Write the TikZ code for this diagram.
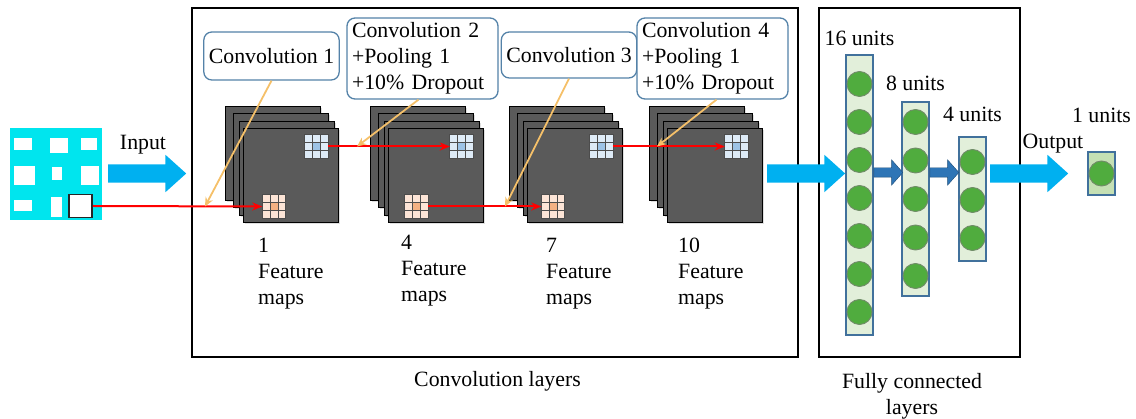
\documentclass[tikz,border=0pt]{standalone}
\usepackage{fontspec}
\setmainfont{Liberation Serif}
\usetikzlibrary{positioning,calc,shapes.arrows,shadows,arrows.meta}

\definecolor{incyan}{RGB}{0,229,238}
\definecolor{bigblue}{RGB}{0,176,240}
\definecolor{smallblue}{RGB}{46,117,182}
\definecolor{smallline}{RGB}{31,78,121}
\definecolor{sheetgray}{RGB}{90,90,90}
\definecolor{boxline}{RGB}{84,130,168}
\definecolor{barfill}{RGB}{226,239,218}
\definecolor{barline}{RGB}{65,113,156}
\definecolor{unitgreen}{RGB}{80,172,62}
\definecolor{unitline}{RGB}{112,140,104}
\definecolor{outfill}{RGB}{197,224,180}
\definecolor{callcol}{RGB}{245,192,105}
\definecolor{cellblue}{RGB}{222,235,247}
\definecolor{cellbluec}{RGB}{157,195,230}
\definecolor{cellpink}{RGB}{252,228,214}
\definecolor{cellpinkc}{RGB}{244,177,131}

% 3x3 小网格
\newcommand{\cellgrid}[2]{%
  \fill[#2] ($(#1.north west)!1/3!(#1.south east)$) rectangle ($(#1.north west)!2/3!(#1.south east)$);
  \foreach \k in {1,2} {
    \draw[gridline] ($(#1.north west)!\k/3!(#1.north east)$) -- ($(#1.south west)!\k/3!(#1.south east)$);
    \draw[gridline] ($(#1.north west)!\k/3!(#1.south west)$) -- ($(#1.north east)!\k/3!(#1.south east)$);
  }
  \draw[gridline] (#1.north west) rectangle (#1.south east);
}

\begin{document}
\begin{tikzpicture}[x=1pt, y=-1pt, every node/.style={font=\fontsize{21.8}{26}\selectfont}, >=Stealth]
    % 样式
    \tikzstyle{framebox} = [rectangle, draw=black, line width=1.8pt, inner sep=0pt]
    \tikzstyle{sheet} = [rectangle, draw=black, fill=sheetgray, line width=1.2pt, minimum width=95pt, minimum height=94pt, inner sep=0pt, drop shadow={opacity=0.25, shadow xshift=1.5pt, shadow yshift=-1.5pt}]
    \tikzstyle{cellbox} = [rectangle, minimum size=23pt, inner sep=0pt]
    \tikzstyle{gridline} = [draw=black!70, line width=0.7pt]
    \tikzstyle{convlabel} = [rectangle, rounded corners=8pt, draw=boxline, line width=1.3pt, fill=white, inner xsep=5pt]
    \tikzstyle{fmlabel} = [align=left, inner sep=0pt]
    \tikzstyle{bigarrow} = [single arrow, fill=bigblue, inner xsep=0pt, inner ysep=9pt, minimum width=37pt, minimum height=78pt, single arrow head extend=9.5pt, single arrow tip angle=84]
    \tikzstyle{smallarrow} = [single arrow, fill=smallblue, draw=smallline, line width=0.4pt, inner xsep=0pt, inner ysep=4.5pt, minimum width=25pt, minimum height=29pt, single arrow head extend=8pt, single arrow tip angle=97]
    \tikzstyle{barbox} = [rectangle, draw=barline, fill=barfill, line width=1.2pt, minimum width=27pt, inner sep=0pt]
    \tikzstyle{unitdot} = [circle, fill=unitgreen, draw=unitline, line width=0.9pt, minimum size=25pt, inner sep=0pt]
    \tikzstyle{unitlbl} = [inner sep=0pt]
    \tikzstyle{redline} = [red, line width=2pt, -{Stealth[length=10pt, width=8pt]}]
    \tikzstyle{callline} = [callcol, line width=1.8pt, -{Stealth[length=9pt, width=8pt]}]

    \useasboundingbox (0,0) rectangle (1136,419);

    % 外框
    \node[framebox, minimum width=606pt, minimum height=349pt] (convframe) at (495,182.5) {};
    \node[framebox, minimum width=201pt, minimum height=349pt] (fcframe) at (919.5,182.5) {};
    \node[anchor=base, inner sep=0pt] (convcap) at (497.5,387) {Convolution layers};
    \node[anchor=north, align=center, inner sep=0pt] (fccap) at (912,373) {Fully connected\\layers};

    % 输入图像
    \node[rectangle, fill=incyan, minimum size=92pt, inner sep=0pt] (img) at (56,174) {};
    \foreach \ax/\ay/\bx/\by in {14/138/32/150, 50/138/68/153, 81/138/97/150,
                                 14/166/35/185, 52/167/62/180, 81/166/99/185,
                                 14/200/32/211, 51/197/62/217}
      \fill[white] (\ax,\ay) rectangle (\bx,\by);
    \node[rectangle, draw=black!85, fill=white, line width=1.6pt, minimum size=23pt, inner sep=0pt] (inbox) at (80.5,206) {};
    \node[bigarrow, anchor=tail] (inarrow) at (108,173.5) {};
    \node[anchor=base, inner sep=0pt] (inlbl) at (143,150) {Input};

    % 特征图
    \foreach \i/\x/\lx/\ly/\num in {1/243/258/238/1, 2/388/401/235/4, 3/527/546/238/7, 4/667/678/238/10} {
      \foreach \dx/\dy in {-18/-22, -10/-15, -4/-7}
        \node[sheet, anchor=north west] at (\x+\dx,128+\dy) {};
      \node[sheet, anchor=north west] (s\i) at (\x,128) {};
      \node[fmlabel, anchor=north west] (f\i) at (\lx,\ly) {\num\\Feature\\maps};
    }
    \foreach \i/\x in {1/316.5, 2/461.5, 3/601.5, 4/736.5} {
      \node[cellbox, fill=cellblue] (b\i) at (\x,146.5) {};
      \cellgrid{b\i}{cellbluec}
    }
    \foreach \i/\x in {1/274, 2/416.5, 3/553} {
      \node[cellbox, fill=cellpink] (p\i) at (\x,206.5) {};
      \cellgrid{p\i}{cellpinkc}
    }

    % 卷积说明框
    \node[convlabel, minimum width=133pt, minimum height=48pt] (c1) at (271.5,56) {Convolution 1};
    \node[convlabel, align=left, text width=141pt, minimum height=81pt] (c2) at (422.5,58.5) {Convolution 2\\+Pooling 1\\+10\% Dropout};
    \node[convlabel, minimum width=134pt, minimum height=46pt] (c3) at (569,55) {Convolution 3};
    \node[convlabel, align=left, text width=141pt, minimum height=81pt] (c4) at (712.5,58.5) {Convolution 4\\+Pooling 1\\+10\% Dropout};

    % 红色箭头
    \draw[redline] (inbox.east) -- (p1.west);
    \draw[redline] (b1.east) -- (b2.west);
    \draw[redline] (p2.east) -- (p3.west);
    \draw[redline] (b3.east) -- (b4.west);

    % 指示线
    \coordinate (k1) at (205,206.5);
    \coordinate (k2) at (357,146.5);
    \coordinate (k3) at (505,206.5);
    \coordinate (k4) at (657,146.5);
    \draw[callline] (c1.south) -- (k1);
    \draw[callline] ($(c2.south)+(-4,0)$) -- (k2);
    \draw[callline] (c3.south) -- (k3);
    \draw[callline] ($(c4.south)+(4,0)$) -- (k4);

    % 全连接层
    \node[barbox, minimum height=280pt] (fc16) at (859.5,195) {};
    \foreach \k in {0,...,6}
      \node[unitdot] (u16-\k) at (859.5,84+38*\k) {};
    \node[barbox, minimum height=194pt] (fc8) at (915.5,199) {};
    \foreach \k in {0,...,4}
      \node[unitdot] (u8-\k) at (915.5,122+38.5*\k) {};
    \node[barbox, minimum height=124pt] (fc4) at (972.5,199) {};
    \foreach \k in {0,...,2}
      \node[unitdot] (u4-\k) at (972.5,162+38*\k) {};
    \node[barbox, fill=outfill, minimum height=43pt] (fcout) at (1101.5,173.5) {};
    \node[unitdot] (u1) at (fcout) {};

    \node[unitlbl, above=8pt of fc16] (l16) {16 units};
    \node[unitlbl, above=10pt of fc8] (l8) {8 units};
    \node[unitlbl, above=14pt of fc4] (l4) {4 units};
    \node[unitlbl, above=28pt of fcout] (l1) {1 units};
    \node[anchor=base, inner sep=0pt] (outlbl) at (1053,149) {Output};

    % 蓝色箭头
    \node[bigarrow, anchor=tip] (midarrow) at (fc16.west |- inarrow.tip) {};
    \node[smallarrow, anchor=tail] (a1) at (fc16.east |- 0,172.5) {};
    \node[smallarrow, anchor=tail] (a2) at (fc8.east |- 0,172.5) {};
    \node[bigarrow, anchor=tail] (outarrow) at (990,173.5) {};
\end{tikzpicture}
\end{document}
